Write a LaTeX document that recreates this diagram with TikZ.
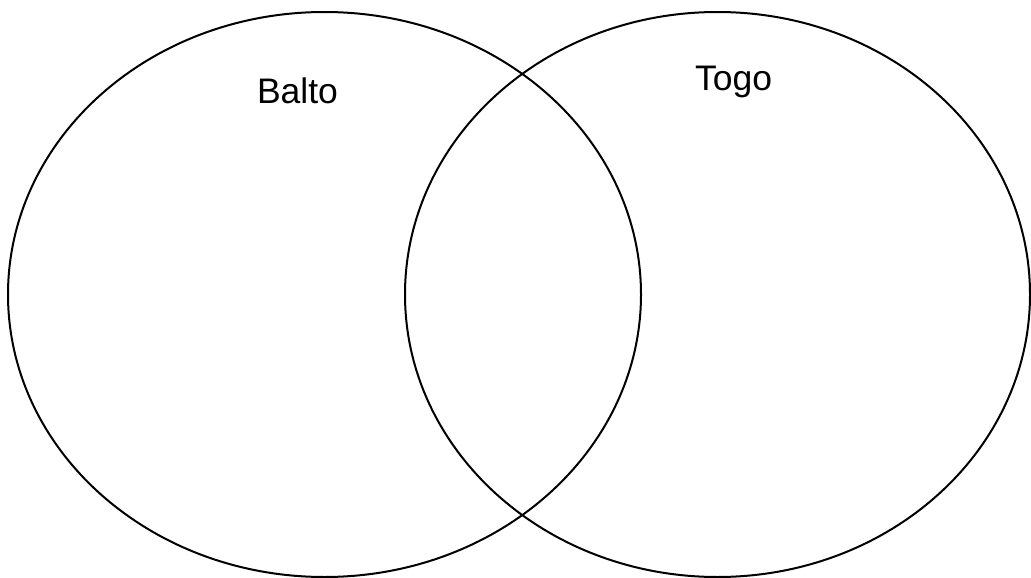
\documentclass[tikz,border=0pt]{standalone}
\usepackage{fontspec}
\setmainfont{Liberation Sans}
\begin{document}
\begin{tikzpicture}[x=1pt,y=-1pt,
  set/.style={draw=black,line width=2pt},
  lbl/.style={anchor=base,inner sep=0pt,font=\fontsize{35.5}{40}\selectfont}]
\useasboundingbox (0,0) rectangle (1031,578);
\draw[set] (324.5,294.5) ellipse [x radius=316.5pt, y radius=282.5pt];
\draw[set] (717.5,294.5) ellipse [x radius=312.5pt, y radius=282.5pt];
\node[lbl] (balto) at (297.5,103) {Balto};
\node[lbl] (togo) at (733.5,90) {Togo};
\end{tikzpicture}
\end{document}
